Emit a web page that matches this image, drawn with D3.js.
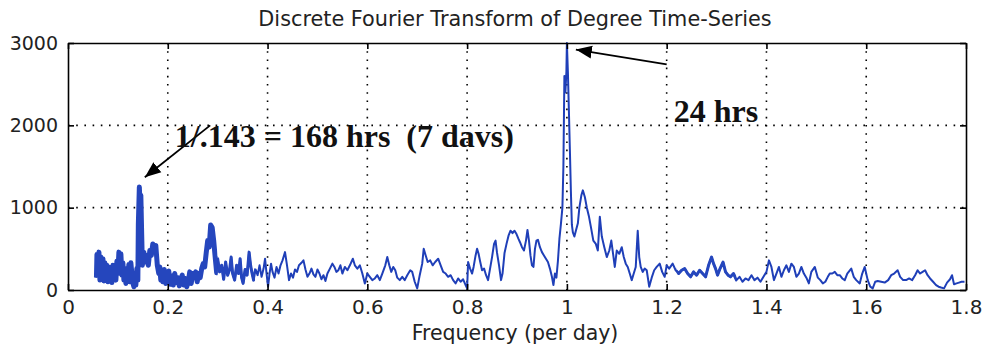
<!DOCTYPE html>
<html>
<head>
<meta charset="utf-8">
<script src="https://cdn.jsdelivr.net/npm/d3@7"></script>
<style>
  body { margin: 0; background: #fff; }
  svg { display: block; }
  .tick text { font-family: "DejaVu Sans", sans-serif; }
</style>
</head>
<body>
<svg id="chart" width="984" height="349"></svg>
<script>
// tick values
var freqTicks = [0, 0.2, 0.4, 0.6, 0.8, 1, 1.2, 1.4, 1.6, 1.8],
    powerTicks = [0, 1000, 2000, 3000];

// [frequency (per day), magnitude]
var spectrum = [
  [0.057,150],[0.058,430],[0.060,200],[0.062,460],[0.064,120],[0.066,400],[0.068,180],[0.070,380],
  [0.072,110],[0.074,330],[0.076,150],[0.078,300],[0.080,100],[0.082,280],[0.084,140],[0.086,260],
  [0.088,90],[0.090,300],[0.092,150],[0.094,200],[0.096,120],[0.098,350],[0.100,200],[0.102,460],
  [0.104,250],[0.106,440],[0.108,180],[0.110,330],[0.112,120],[0.114,260],[0.116,80],[0.118,230],
  [0.120,150],[0.122,310],[0.124,100],[0.126,330],[0.128,200],[0.130,90],[0.132,40],[0.134,180],
  [0.136,60],[0.138,260],[0.140,120],[0.141,800],[0.143,1250],[0.145,950],[0.146,1150],[0.148,600],
  [0.149,300],[0.152,460],[0.155,340],[0.158,420],[0.161,300],[0.164,480],[0.167,420],[0.170,560],
  [0.173,500],[0.176,540],[0.179,300],[0.182,200],[0.184,280],[0.186,120],[0.188,220],[0.190,100],
  [0.193,250],[0.196,80],[0.199,180],[0.202,230],[0.205,70],[0.208,170],[0.211,60],[0.214,200],
  [0.217,90],[0.220,150],[0.223,50],[0.226,130],[0.229,180],[0.232,60],[0.235,140],[0.238,40],
  [0.241,100],[0.244,220],[0.247,80],[0.250,200],[0.253,150],[0.256,220],[0.259,100],[0.262,200],
  [0.265,150],[0.268,260],[0.271,320],[0.274,280],[0.277,450],[0.280,600],[0.283,520],[0.286,790],
  [0.289,760],[0.292,600],[0.295,400],[0.298,210],
  [0.300,380],[0.304,220],[0.308,300],[0.312,130],[0.316,340],[0.320,180],[0.324,250],[0.327,400],
  [0.330,200],[0.334,120],[0.338,300],[0.342,200],[0.345,380],[0.348,150],[0.351,80],[0.355,250],
  [0.359,180],[0.363,460],[0.366,300],[0.369,200],[0.372,120],[0.376,250],[0.380,180],[0.384,300],
  [0.388,160],[0.392,260],[0.395,380],[0.398,200],[0.401,40],[0.404,200],[0.407,320],[0.410,220],
  [0.414,150],[0.418,280],[0.422,200],[0.426,300],[0.430,360],[0.435,460],[0.439,300],[0.443,120],
  [0.447,200],[0.451,150],[0.455,250],[0.459,220],[0.463,300],[0.468,330],[0.472,360],[0.476,250],
  [0.480,160],[0.484,200],[0.488,260],[0.492,190],[0.496,160],[0.500,250],[0.504,200],[0.508,130],
  [0.512,180],[0.516,110],[0.520,200],[0.525,260],[0.530,320],[0.534,280],[0.538,220],[0.542,240],
  [0.546,300],[0.550,200],[0.555,280],[0.560,240],[0.565,300],[0.571,380],[0.575,300],[0.580,260],
  [0.585,300],[0.590,200],[0.595,80],[0.600,200],[0.605,160],[0.610,120],[0.615,140],[0.620,180],
  [0.625,120],[0.630,200],[0.636,300],[0.640,400],[0.644,300],[0.648,220],[0.652,280],[0.656,240],
  [0.660,150],[0.665,120],[0.670,160],[0.675,120],[0.680,180],[0.686,240],[0.690,220],[0.695,100],
  [0.700,20],[0.705,180],[0.710,320],[0.713,500],[0.717,420],[0.721,340],[0.726,360],[0.731,300],
  [0.736,340],[0.742,380],[0.747,300],[0.752,220],[0.757,200],[0.762,160],[0.767,180],[0.772,120],
  [0.777,80],[0.782,140],[0.787,100],[0.792,130],[0.797,60],[0.800,20],[0.802,340],[0.806,260],
  [0.810,200],[0.813,280],[0.817,420],[0.820,500],[0.823,440],[0.826,350],[0.830,240],[0.834,260],
  [0.838,180],[0.842,120],[0.846,260],[0.850,400],[0.854,560],[0.857,600],[0.860,450],[0.864,300],
  [0.868,120],[0.871,200],[0.875,450],[0.879,560],[0.883,660],[0.887,720],[0.891,690],[0.895,720],
  [0.899,680],[0.903,620],[0.906,580],[0.910,520],[0.914,480],[0.918,600],[0.921,730],[0.924,600],
  [0.927,420],[0.930,300],[0.933,280],[0.936,500],[0.939,600],[0.942,610],[0.946,520],[0.950,460],
  [0.954,420],[0.958,380],[0.962,340],[0.966,260],[0.970,160],[0.973,60],[0.976,200],[0.979,150],
  [0.982,350],[0.985,620],[0.988,800],[0.991,1000],[0.993,1500],[0.995,2600],[0.997,2400],[0.999,2650],
  [1.000,3000],[1.002,2650],[1.004,2180],[1.006,1700],[1.008,1200],[1.010,790],[1.012,700],[1.015,650],
  [1.018,720],[1.022,810],[1.025,1000],[1.029,1150],[1.032,1210],[1.036,1130],[1.040,1000],[1.044,900],
  [1.048,770],[1.053,600],[1.058,560],[1.062,480],[1.066,890],[1.070,650],[1.075,520],[1.080,400],
  [1.085,480],[1.089,600],[1.093,420],[1.096,280],[1.100,480],[1.105,440],[1.110,520],[1.114,400],
  [1.118,320],[1.122,280],[1.126,200],[1.130,120],[1.134,200],[1.138,280],[1.142,720],[1.145,400],
  [1.148,280],[1.152,220],[1.156,260],[1.160,240],[1.165,40],[1.170,150],[1.175,240],[1.180,280],
  [1.186,320],[1.191,220],[1.196,160],[1.200,300],[1.205,260],[1.212,320],[1.218,240],[1.224,200],
  [1.230,240],[1.236,260],[1.242,200],[1.248,160],[1.254,220],[1.260,180],[1.266,240],[1.272,200],
  [1.278,160],[1.284,300],[1.290,400],[1.294,320],[1.298,260],[1.302,180],[1.307,260],[1.313,340],
  [1.318,220],[1.323,180],[1.328,160],[1.334,200],[1.340,120],[1.346,160],[1.352,100],[1.358,140],
  [1.364,120],[1.370,180],[1.376,120],[1.382,150],[1.388,100],[1.394,160],[1.400,220],[1.405,360],
  [1.410,280],[1.415,120],[1.420,200],[1.425,280],[1.430,160],[1.435,240],[1.440,300],[1.445,220],
  [1.450,320],[1.455,280],[1.460,160],[1.465,200],[1.470,280],[1.475,200],[1.480,150],[1.485,80],
  [1.490,220],[1.497,280],[1.503,150],[1.508,120],[1.513,80],[1.518,100],[1.523,160],[1.527,200],
  [1.532,200],[1.537,220],[1.542,180],[1.547,180],[1.552,140],[1.557,120],[1.562,200],[1.570,260],
  [1.575,160],[1.580,120],[1.587,80],[1.592,200],[1.597,280],[1.603,120],[1.608,40],[1.613,20],
  [1.618,100],[1.623,110],[1.630,100],[1.637,90],[1.644,120],[1.650,180],[1.656,200],[1.663,240],
  [1.668,160],[1.674,120],[1.680,120],[1.686,140],[1.692,120],[1.698,180],[1.703,240],[1.708,200],
  [1.713,220],[1.718,240],[1.723,180],[1.728,140],[1.734,100],[1.740,60],[1.745,40],[1.750,30],
  [1.756,20],[1.762,90],[1.768,130],[1.772,180],[1.776,70],[1.781,80],[1.786,90],[1.791,100],
  [1.797,100]
];

// annotations: label, text anchor point, arrow tail, arrow tip (data coords)
var notes = [
  {text: "1/.143 = 168 hrs  (7 davs)", at: [0.214, 1733], from: [0.285, 2000], to: [0.154, 1370]},
  {text: "24 hrs", at: [1.214, 2036], from: [1.2, 2740], to: [1.018, 2920]}
];

var svg = d3.select("#chart"),
    margin = {top: 43, right: 18, bottom: 59, left: 68},
    width = 984 - margin.left - margin.right,
    height = 349 - margin.top - margin.bottom;

var x = d3.scaleLinear().domain([0, 1.8]).range([0, width]),
    y = d3.scaleLinear().domain([0, 3000]).range([height, 0]);

var g = svg.append("g").attr("transform", "translate(" + margin.left + "," + margin.top + ")");

// dotted grid
g.append("g").selectAll("line.gx")
  .data(freqTicks.slice(1, -1)).enter().append("line")
  .attr("x1", function(d) { return x(d); }).attr("x2", function(d) { return x(d); })
  .attr("y1", 0).attr("y2", height)
  .attr("stroke", "#000").attr("stroke-width", 1.6).attr("stroke-dasharray", "1.6,6.6");
g.append("g").selectAll("line.gy")
  .data(powerTicks.slice(1, -1)).enter().append("line")
  .attr("y1", function(d) { return y(d); }).attr("y2", function(d) { return y(d); })
  .attr("x1", 0).attr("x2", width)
  .attr("stroke", "#000").attr("stroke-width", 1.6).attr("stroke-dasharray", "1.6,6.6");

// curve; denser parts of the trace look heavier in the original
var line = d3.line().x(function(d) { return x(d[0]); }).y(function(d) { return y(d[1]); });
var defs = svg.append("defs");
var heavy = [[0.05, 0.30, 5], [0.30, 0.375, 3], [1.22, 1.34, 3]];

g.append("path").datum(spectrum).attr("d", line)
  .attr("fill", "none").attr("stroke", "#1f3fb8").attr("stroke-width", 2)
  .attr("stroke-linejoin", "round");

heavy.forEach(function(h, i) {
  defs.append("clipPath").attr("id", "clip" + i).append("rect")
    .attr("x", x(h[0])).attr("width", x(h[1]) - x(h[0]))
    .attr("y", -10).attr("height", height + 20);
  g.append("path").datum(spectrum).attr("d", line)
    .attr("clip-path", "url(#clip" + i + ")")
    .attr("fill", "none").attr("stroke", "#2546bd").attr("stroke-width", h[2])
    .attr("stroke-linejoin", "round");
});

// axes, matlab style: box with inward ticks all round
var xb = g.append("g").attr("transform", "translate(0," + height + ")")
  .call(d3.axisBottom(x).tickValues(freqTicks).tickSizeInner(-6).tickSizeOuter(0).tickPadding(10)
        .tickFormat(function(d) { return d === 0 || d === 1 ? d : d3.format(".1f")(d); }));
var xt = g.append("g")
  .call(d3.axisTop(x).tickValues(freqTicks).tickSizeInner(-6).tickSizeOuter(0).tickFormat(""));
var yl = g.append("g")
  .call(d3.axisLeft(y).tickValues(powerTicks).tickSizeInner(-6).tickSizeOuter(0).tickPadding(10)
        .tickFormat(d3.format("d")));
var yr = g.append("g").attr("transform", "translate(" + width + ",0)")
  .call(d3.axisRight(y).tickValues(powerTicks).tickSizeInner(-6).tickSizeOuter(0).tickFormat(""));

[xb, xt, yl, yr].forEach(function(a) {
  a.selectAll(".domain").attr("stroke", "#000").attr("stroke-width", 1.6);
  a.selectAll(".tick line").attr("stroke", "#000").attr("stroke-width", 1.6);
});
xb.selectAll(".tick text").attr("font-size", 20).attr("fill", "#222");
yl.selectAll(".tick text").attr("font-size", 19).attr("fill", "#222");

// title and axis label
svg.append("text").attr("x", margin.left + width / 2 - 2).attr("y", 26)
  .attr("text-anchor", "middle").attr("font-family", "DejaVu Sans, sans-serif")
  .attr("font-size", 20.8).attr("fill", "#222")
  .text("Discrete Fourier Transform of Degree Time-Series");
svg.append("text").attr("x", margin.left + width / 2 - 2).attr("y", 340)
  .attr("text-anchor", "middle").attr("font-family", "DejaVu Sans, sans-serif")
  .attr("font-size", 20.5).attr("fill", "#222")
  .text("Frequency (per day)");

// annotations
defs.append("marker").attr("id", "head").attr("viewBox", "0 0 10 10")
  .attr("refX", 10).attr("refY", 5).attr("markerWidth", 16).attr("markerHeight", 16)
  .attr("markerUnits", "userSpaceOnUse").attr("orient", "auto")
  .append("path").attr("d", "M0,1 L10,5 L0,9 Z").attr("fill", "#000");

var ann = g.append("g").selectAll("g").data(notes).enter().append("g");
ann.append("line")
  .attr("x1", function(d) { return x(d.from[0]); }).attr("y1", function(d) { return y(d.from[1]); })
  .attr("x2", function(d) { return x(d.to[0]); }).attr("y2", function(d) { return y(d.to[1]); })
  .attr("stroke", "#000").attr("stroke-width", 1.8).attr("marker-end", "url(#head)");
ann.append("text")
  .attr("x", function(d) { return x(d.at[0]); }).attr("y", function(d) { return y(d.at[1]); })
  .attr("font-family", "Liberation Serif, serif").attr("font-weight", "bold")
  .attr("font-size", 32).attr("fill", "#111").style("white-space", "pre")
  .text(function(d) { return d.text; });
</script>
</body>
</html>
